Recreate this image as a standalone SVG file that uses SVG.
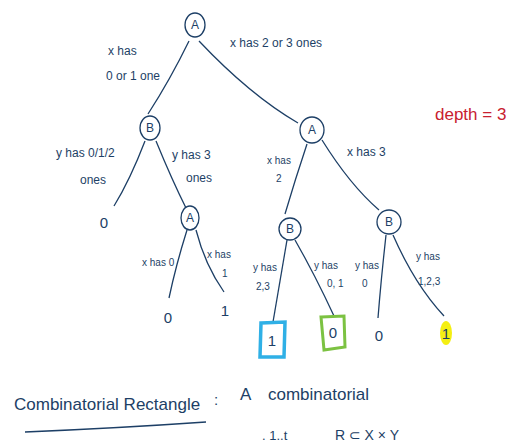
<svg xmlns="http://www.w3.org/2000/svg" width="508" height="448" viewBox="0 0 508 448">
<style>
text{font-family:"Liberation Sans","DejaVu Sans",sans-serif;fill:#1d3f66}
.lbl{font-size:12px}
.sm{font-size:10px}
.nd{fill:none;stroke:#1d3f66;stroke-width:1.3}
.nt{font-size:12px;text-anchor:middle}
.edge{fill:none;stroke:#1d3f66;stroke-width:1.3}
.leaf{font-size:15px;text-anchor:middle}
</style>
<rect width="508" height="448" fill="#ffffff"/>
<g id="connectors">
<path class="edge" d="M189 41 Q170 80 148 114"/>
<path class="edge" d="M199 41 Q250 95 298 123"/>
<path class="edge" d="M145 141 Q130 180 114 206"/>
<path class="edge" d="M156 141 Q172 180 186 208"/>
<path class="edge" d="M187 230 Q176 265 169 298"/>
<path class="edge" d="M196 230 Q205 265 224 292"/>
<path class="edge" d="M307 144 Q295 180 285 214"/>
<path class="edge" d="M322 140 Q350 185 379 210"/>
<path class="edge" d="M287 240 Q280 280 273 322"/>
<path class="edge" d="M295 240 Q315 275 334 316"/>
<path class="edge" d="M386 235 Q381 280 378 318"/>
<path class="edge" d="M393 235 Q415 285 444 316"/>
</g>
<g id="root-A"><ellipse class="nd" cx="195" cy="25" rx="10" ry="12"/><text class="nt" x="195" y="29">A</text></g>
<g id="B1"><ellipse class="nd" cx="150" cy="128" rx="10" ry="12"/><text class="nt" x="150" y="132">B</text></g>
<g id="A2"><ellipse class="nd" cx="312" cy="130" rx="12" ry="13"/><text class="nt" x="312" y="134">A</text></g>
<g id="A3"><ellipse class="nd" cx="190" cy="218" rx="9" ry="12"/><text class="nt" x="190" y="222">A</text></g>
<g id="B2"><ellipse class="nd" cx="290" cy="229" rx="11" ry="11"/><text class="nt" x="290" y="233">B</text></g>
<g id="B3"><ellipse class="nd" cx="389" cy="222" rx="12" ry="12"/><text class="nt" x="389" y="226">B</text></g>
<g id="leaf-0a"><text class="leaf" x="104" y="228">0</text></g>
<g id="leaf-0b"><text class="leaf" x="168" y="323">0</text></g>
<g id="leaf-1a"><text class="leaf" x="225" y="316">1</text></g>
<g id="leaf-1-blue"><path d="M261 323 L285 322 L284 357 L260 357 Z" fill="none" stroke="#2fb0e6" stroke-width="3.5"/><text class="leaf" x="272" y="346">1</text></g>
<g id="leaf-0-green"><path d="M321 317 L344 316 L345 347 L324 350 Z" fill="none" stroke="#7cc242" stroke-width="3"/><text class="leaf" x="333" y="338">0</text></g>
<g id="leaf-0c"><text class="leaf" x="379" y="341">0</text></g>
<g id="leaf-1-yellow"><ellipse cx="446" cy="333" rx="6" ry="12" fill="#f4ef12"/><text class="leaf" x="446" y="339">1</text></g>
<g id="labels">
<text class="lbl" x="230" y="47">x has 2 or 3 ones</text>
<text class="lbl" x="108" y="55">x has</text>
<text class="lbl" x="106" y="80">0 or 1 one</text>
<text class="lbl" x="56" y="157">y has 0/1/2</text>
<text class="lbl" x="80" y="184">ones</text>
<text class="lbl" x="172" y="159">y has 3</text>
<text class="lbl" x="186" y="182">ones</text>
<text class="sm" x="142" y="266">x has 0</text>
<text class="sm" x="207" y="258">x has</text>
<text class="sm" x="222" y="277">1</text>
<text class="sm" x="267" y="164">x has</text>
<text class="sm" x="276" y="182">2</text>
<text class="lbl" x="347" y="156">x has 3</text>
<text class="sm" x="253" y="271" font-size="9.5">y has</text>
<text class="sm" x="256" y="290" font-size="9.5">2,3</text>
<text class="sm" x="314" y="269">y has</text>
<text class="sm" x="327" y="287">0, 1</text>
<text class="sm" x="355" y="269">y has</text>
<text class="sm" x="362" y="287">0</text>
<text class="sm" x="416" y="260">y has</text>
<text class="sm" x="418" y="285">1,2,3</text>
</g>
<text x="435" y="120" font-size="17" style="fill:#c8202f">depth = 3</text>
<text x="14" y="410" font-size="17">Combinatorial Rectangle</text>
<path d="M25 432 Q120 428 206 422" fill="none" stroke="#1d3f66" stroke-width="1.4"/>
<text x="214" y="405" font-size="15">:</text>
<text x="240" y="400" font-size="17">A</text>
<text x="268" y="400" font-size="17">combinatorial</text>
<text x="262" y="440" font-size="13">. 1..t</text>
<text x="335" y="440" font-size="14">R ⊂ X × Y</text>
</svg>
